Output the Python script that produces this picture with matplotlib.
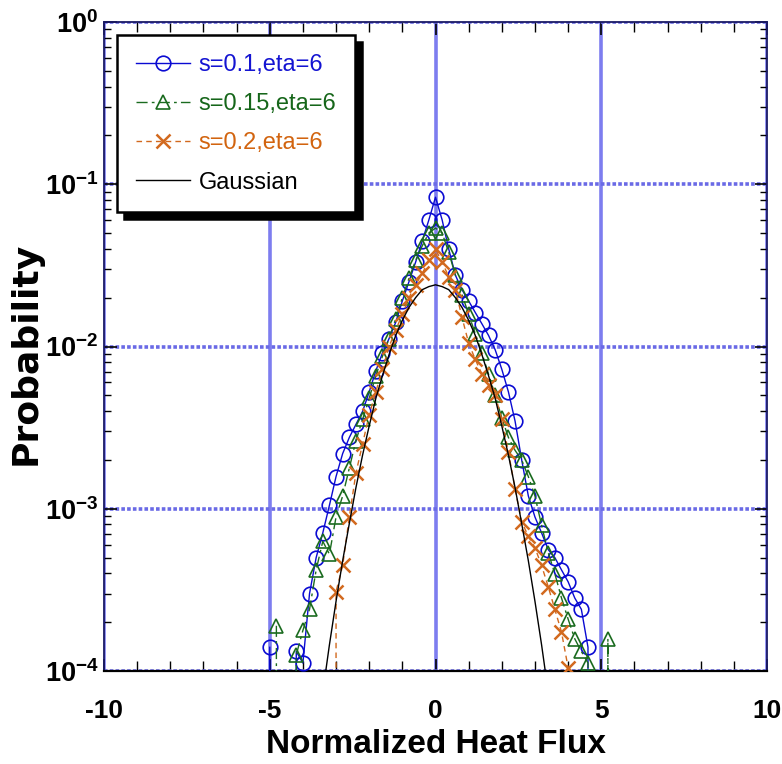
import numpy as np
import matplotlib
matplotlib.use("Agg")
import matplotlib.pyplot as plt
from matplotlib import font_manager
from matplotlib.ticker import FixedLocator, MultipleLocator, LogLocator, FixedFormatter, NullFormatter


def pick_family(names):
    # first family that is really installed
    for name in names:
        try:
            font_manager.findfont(font_manager.FontProperties(family=name),
                                  fallback_to_default=False)
            return name
        except ValueError:
            pass
    return "DejaVu Sans"


narrow = pick_family(["Liberation Sans Narrow", "Arial Narrow", "Liberation Sans"])
arial = pick_family(["Liberation Sans", "Arial"])

plt.rcParams['axes.unicode_minus'] = False
plt.rcParams['mathtext.fontset'] = 'custom'
plt.rcParams['mathtext.rm'] = narrow + ':bold'
plt.rcParams['mathtext.bf'] = narrow + ':bold'
plt.rcParams['mathtext.it'] = narrow + ':bold'

# s=0.1, eta=6  (blue circles)
x_s01 = [-5.0, -4.8, -4.6, -4.4, -4.2, -4.0, -3.8, -3.6, -3.4, -3.2, -3.0, -2.8, -2.6, -2.4,
         -2.2, -2.0, -1.8, -1.6, -1.4, -1.2, -1.0, -0.8, -0.6, -0.4, -0.2, 0.0, 0.2, 0.4,
         0.6, 0.8, 1.0, 1.2, 1.4, 1.6, 1.8, 2.0, 2.2, 2.4, 2.6, 2.8, 3.0, 3.2, 3.4, 3.6,
         3.8, 4.0, 4.2, 4.4, 4.6, 4.8]
p_s01 = [1.4e-4, 0, 0, 0, 1.32e-4, 1.12e-4, 3.0e-4, 5.0e-4, 7.1e-4, 1.05e-3, 1.58e-3, 2.19e-3,
         2.75e-3, 3.31e-3, 3.98e-3, 5.25e-3, 7.08e-3, 9.12e-3, 1.12e-2, 1.41e-2, 1.91e-2,
         2.51e-2, 3.31e-2, 4.47e-2, 6.03e-2, 8.32e-2, 6.03e-2, 3.98e-2, 2.75e-2, 2.24e-2,
         1.91e-2, 1.62e-2, 1.38e-2, 1.17e-2, 9.55e-3, 7.24e-3, 5.25e-3, 3.47e-3, 2.0e-3,
         1.2e-3, 8.9e-4, 7.1e-4, 5.6e-4, 5.0e-4, 4.2e-4, 3.55e-4, 2.82e-4, 2.4e-4, 1.4e-4, 0]

# s=0.15, eta=6  (green triangles)
x_s015 = [-4.8, -4.6, -4.4, -4.2, -4.0, -3.8, -3.6, -3.4, -3.2, -3.0, -2.8, -2.6, -2.4, -2.2,
          -2.0, -1.8, -1.6, -1.4, -1.2, -1.0, -0.8, -0.6, -0.4, -0.2, 0.0, 0.2, 0.4, 0.6,
          0.8, 1.0, 1.2, 1.4, 1.6, 1.8, 2.0, 2.2, 2.4, 2.6, 2.8, 3.0, 3.2, 3.4, 3.6, 3.8,
          4.0, 4.2, 4.4, 4.6, 4.8, 5.0, 5.2, 5.4]
p_s015 = [1.9e-4, 0, 0, 1.26e-4, 1.78e-4, 2.4e-4, 4.2e-4, 6.3e-4, 5.25e-4, 8.9e-4, 1.2e-3,
          1.78e-3, 2.63e-3, 3.55e-3, 4.79e-3, 6.61e-3, 8.71e-3, 1.12e-2, 1.48e-2, 2.0e-2,
          2.63e-2, 3.39e-2, 4.17e-2, 5.01e-2, 5.37e-2, 5.01e-2, 3.8e-2, 2.75e-2, 2.09e-2,
          1.58e-2, 1.2e-2, 9.12e-3, 6.76e-3, 5.01e-3, 3.63e-3, 2.75e-3, 2.29e-3, 2.0e-3,
          1.58e-3, 1.2e-3, 7.9e-4, 5.37e-4, 3.98e-4, 2.82e-4, 2.09e-4, 1.58e-4, 1.32e-4,
          1.12e-4, 0, 0, 1.58e-4, 0]

# s=0.2, eta=6  (orange crosses)
x_s02 = [-3.2, -3.0, -2.8, -2.6, -2.4, -2.2, -2.0, -1.8, -1.6, -1.4, -1.2, -1.0, -0.8, -0.6,
         -0.4, -0.2, 0.0, 0.2, 0.4, 0.6, 0.8, 1.0, 1.2, 1.4, 1.6, 1.8, 2.0, 2.2, 2.4, 2.6,
         2.8, 3.0, 3.2, 3.4, 3.6, 3.8, 4.0, 4.2]
p_s02 = [0, 3.09e-4, 4.47e-4, 8.9e-4, 1.66e-3, 2.51e-3, 3.8e-3, 5.25e-3, 7.24e-3, 1.0e-2,
         1.26e-2, 1.58e-2, 2.0e-2, 2.4e-2, 2.82e-2, 3.39e-2, 3.98e-2, 3.31e-2, 2.69e-2,
         2.24e-2, 1.51e-2, 1.05e-2, 8.32e-3, 6.76e-3, 5.75e-3, 5.01e-3, 3.55e-3, 2.24e-3,
         1.32e-3, 8.32e-4, 6.76e-4, 5.75e-4, 4.47e-4, 3.31e-4, 2.4e-4, 1.74e-4, 1.05e-4, 0]

# Gaussian reference
x_gauss = [-3.4, -3.2, -3.0, -2.8, -2.6, -2.4, -2.2, -2.0, -1.8, -1.6, -1.4, -1.2, -1.0, -0.8,
           -0.6, -0.4, -0.2, 0.0, 0.2, 0.4, 0.6, 0.8, 1.0, 1.2, 1.4, 1.6, 1.8, 2.0, 2.2, 2.4,
           2.6, 2.8, 3.0, 3.2, 3.4]
p_gauss = [7.4e-5, 1.45e-4, 2.69e-4, 4.79e-4, 8.1e-4, 1.35e-3, 2.14e-3, 3.24e-3, 4.79e-3,
           6.61e-3, 8.91e-3, 1.17e-2, 1.45e-2, 1.74e-2, 2.0e-2, 2.24e-2, 2.34e-2, 2.4e-2,
           2.34e-2, 2.24e-2, 2.0e-2, 1.74e-2, 1.45e-2, 1.17e-2, 8.91e-3, 6.61e-3, 4.79e-3,
           3.24e-3, 2.14e-3, 1.35e-3, 8.1e-4, 4.79e-4, 2.69e-4, 1.45e-4, 7.4e-5]

labels = ["s=0.1,eta=6", "s=0.15,eta=6", "s=0.2,eta=6", "Gaussian"]
text_colors = ["#1414d2", "#16661a", "#d2640f", "black"]

x_ticks = [-10, -5, 0, 5, 10]
y_ticks = [1e-4, 1e-3, 1e-2, 1e-1, 1e0]
y_ticklabels = [r"$\mathbf{10^{-4}}$", r"$\mathbf{10^{-3}}$", r"$\mathbf{10^{-2}}$",
                r"$\mathbf{10^{-1}}$", r"$\mathbf{10^{0}}$"]

fig = plt.figure(figsize=(7.82, 7.64), dpi=100)
ax = fig.add_axes([104 / 782, 1 - 671 / 764, 663 / 782, 649 / 764])
ax.set_yscale("log", nonpositive="clip")

ax.plot(x_s01, p_s01, color="#0a0ad2", lw=1.0, marker="o", ms=10.5, mfc="none", mew=1.2,
        label=labels[0], zorder=3)
ax.plot(x_s015, p_s015, color="#1a6b1f", lw=1.0, ls=(0, (8, 3, 2, 3)), marker="^", ms=10.5,
        mfc="none", mew=1.2, label=labels[1], zorder=3)
ax.plot(x_s02, p_s02, color="#d2691e", lw=1.0, ls=(0, (4, 3)), marker="x", ms=9.5, mew=1.8,
        label=labels[2], zorder=3)
ax.plot(x_gauss, p_gauss, color="black", lw=1.0, label=labels[3], zorder=4)

ax.set_xlim(-10, 10)
ax.set_ylim(1e-4, 1e0)

ax.xaxis.set_major_locator(FixedLocator(x_ticks))
ax.xaxis.set_major_formatter(FixedFormatter([str(t) for t in x_ticks]))
ax.xaxis.set_minor_locator(MultipleLocator(1))
ax.yaxis.set_major_locator(FixedLocator(y_ticks))
ax.yaxis.set_major_formatter(FixedFormatter(y_ticklabels))
ax.yaxis.set_minor_locator(LogLocator(base=10, subs=np.arange(2, 10), numticks=20))
ax.yaxis.set_minor_formatter(NullFormatter())

ax.tick_params(which="both", direction="in", top=True, right=True, color="black")
ax.tick_params(axis="x", which="major", length=9, width=1.2, pad=20)
ax.tick_params(axis="x", which="minor", length=7, width=1.0)
ax.tick_params(axis="y", which="major", length=9, width=1.2, pad=4)
ax.tick_params(axis="y", which="minor", length=5, width=1.0)

for lab in ax.get_xticklabels():
    lab.set_fontfamily(narrow)
    lab.set_fontweight("bold")
    lab.set_fontsize(19)
for lab in ax.get_yticklabels():
    lab.set_fontsize(19.5)

ax.set_axisbelow(True)
ax.xaxis.grid(True, which="major", color="#7d7def", lw=2.6, ls="-")
ax.yaxis.grid(True, which="major", color="#6a6ae6", lw=2.6, ls=(0, (1, 0.6)))

for side in ["left", "top", "right"]:
    ax.spines[side].set_color("#1a1a66")
    ax.spines[side].set_linewidth(1.3)
ax.spines["bottom"].set_color("black")
ax.spines["bottom"].set_linewidth(1.6)

ax.set_xlabel("Normalized Heat Flux", fontfamily=narrow, fontweight="bold", fontsize=24)
ax.xaxis.set_label_coords(0.5, -0.09)
ax.set_ylabel("Probability", fontfamily="DejaVu Sans", fontweight="bold", fontsize=26)
ax.yaxis.set_label_coords(-0.092, 0.49)

leg = ax.legend(loc="upper left", bbox_to_anchor=(0.0196, 0.980), borderaxespad=0,
                prop={"family": arial, "size": 17}, numpoints=1,
                handlelength=2.3, handletextpad=0.35, labelspacing=0.73, borderpad=0.8,
                fancybox=False, framealpha=1,
                shadow={"ox": 5, "oy": -5, "color": "black", "alpha": 1})
leg.get_frame().set_edgecolor("black")
leg.get_frame().set_linewidth(1.8)
for txt, c in zip(leg.get_texts(), text_colors):
    txt.set_color(c)

fig.savefig("out.png", dpi=100)
